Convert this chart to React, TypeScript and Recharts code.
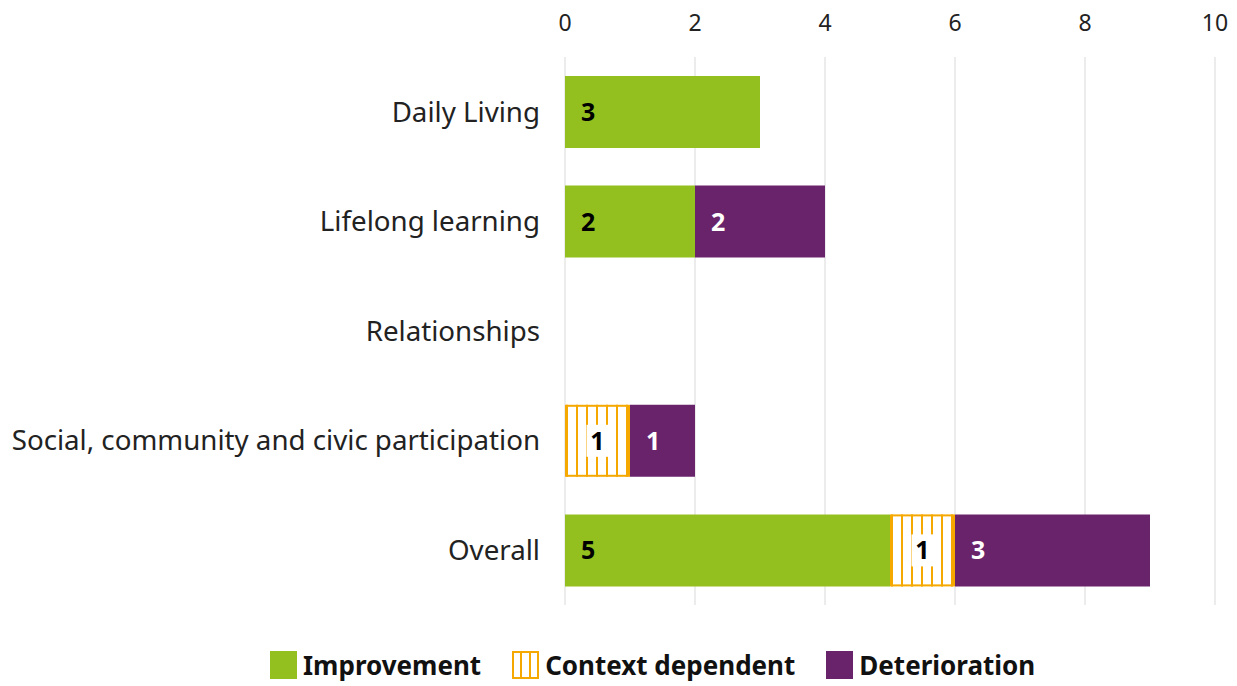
import React from 'react';
import { BarChart, Bar, XAxis, YAxis, CartesianGrid, LabelList } from 'recharts';

const categories = ['Daily Living', 'Lifelong learning', 'Relationships', 'Social, community and civic participation', 'Overall'];
const improvement = [3, 2, 0, 0, 5];
const contextDependent = [0, 0, 0, 1, 1];
const deterioration = [0, 2, 0, 1, 3];
const xTicks = [0, 2, 4, 6, 8, 10];

const GREEN = '#93C01F';
const ORANGE = '#F5A800';
const PURPLE = '#69236B';
const FONT = '"Noto Sans", sans-serif';

const data = categories.map((name, i) => ({
  name,
  improvement: improvement[i],
  context: contextDependent[i],
  deterioration: deterioration[i],
}));

const StripedBar = (props: any) => {
  const { x, y, width, height } = props;
  if (!width || width <= 0) return null;
  const lines = [];
  for (let lx = x + 2; lx < x + width - 1; lx += 10) {
    lines.push(<line key={lx} x1={lx} x2={lx} y1={y} y2={y + height} stroke={ORANGE} strokeWidth={2} />);
  }
  return (
    <g>
      <rect x={x} y={y} width={width} height={height} fill="#fff" />
      {lines}
      <rect x={x + 1} y={y + 1} width={width - 2} height={height - 2} fill="none" stroke={ORANGE} strokeWidth={2} />
    </g>
  );
};

const leftLabel = (color: string) => (props: any) => {
  const { x, y, height, value } = props;
  if (!value) return null;
  return (
    <text x={x + 16} y={y + height / 2} dy={9} fill={color} fontFamily={FONT} fontWeight={700} fontSize={25}>
      {value}
    </text>
  );
};

const centerLabel = (props: any) => {
  const { x, y, width, height, value } = props;
  if (!value) return null;
  const cx = x + width / 2;
  const cy = y + height / 2;
  return (
    <g>
      <rect x={cx - 11} y={cy - 16} width={22} height={32} fill="#fff" />
      <text x={cx} y={cy} dy={9} textAnchor="middle" fill="#000" fontFamily={FONT} fontWeight={700} fontSize={25}>
        {value}
      </text>
    </g>
  );
};

const legendItems = [
  { label: 'Improvement', kind: 'green' },
  { label: 'Context dependent', kind: 'stripe' },
  { label: 'Deterioration', kind: 'purple' },
];

const Swatch = ({ kind }: { kind: string }) => {
  if (kind === 'stripe') {
    return (
      <svg width={27} height={28} style={{ marginRight: 6, flexShrink: 0 }}>
        <rect x={1} y={1} width={25} height={26} fill="#fff" stroke={ORANGE} strokeWidth={2} />
        <line x1={9} x2={9} y1={0} y2={28} stroke={ORANGE} strokeWidth={2} />
        <line x1={18} x2={18} y1={0} y2={28} stroke={ORANGE} strokeWidth={2} />
      </svg>
    );
  }
  return (
    <svg width={27} height={28} style={{ marginRight: 6, flexShrink: 0 }}>
      <rect x={0} y={0} width={27} height={28} fill={kind === 'green' ? GREEN : PURPLE} />
    </svg>
  );
};

export default function App() {
  return (
    <div style={{ position: 'absolute', left: 0, top: 0, width: 1237, height: 686, background: '#fff', fontFamily: FONT }}>
      <BarChart
        width={1237}
        height={620}
        data={data}
        layout="vertical"
        margin={{ top: 0, right: 22, bottom: 15, left: 0 }}
        barSize={72}
      >
        <CartesianGrid horizontal={false} stroke="#d9d9d9" />
        <XAxis
          type="number"
          orientation="top"
          domain={[0, 10]}
          ticks={xTicks}
          height={57}
          axisLine={false}
          tickLine={false}
          tickMargin={20}
          tick={{ fontSize: 23, fill: '#222', fontFamily: FONT }}
        />
        <YAxis
          type="category"
          dataKey="name"
          width={565}
          axisLine={false}
          tickLine={false}
          tickMargin={19}
          tick={{ fontSize: 27.7, fill: '#222', fontFamily: FONT }}
        />
        <Bar dataKey="improvement" stackId="a" fill={GREEN} isAnimationActive={false}>
          <LabelList dataKey="improvement" content={leftLabel('#000')} />
        </Bar>
        <Bar dataKey="context" stackId="a" fill="#fff" shape={StripedBar} isAnimationActive={false}>
          <LabelList dataKey="context" content={centerLabel} />
        </Bar>
        <Bar dataKey="deterioration" stackId="a" fill={PURPLE} isAnimationActive={false}>
          <LabelList dataKey="deterioration" content={leftLabel('#fff')} />
        </Bar>
      </BarChart>
      <div style={{ position: 'absolute', left: 270, top: 651, display: 'flex', alignItems: 'center', whiteSpace: 'nowrap' }}>
        {legendItems.map((it, i) => (
          <div key={it.label} style={{ display: 'flex', alignItems: 'center', marginLeft: i === 0 ? 0 : 31 }}>
            <Swatch kind={it.kind} />
            <span style={{ fontSize: 26, fontWeight: 700, color: '#111', lineHeight: '28px' }}>{it.label}</span>
          </div>
        ))}
      </div>
    </div>
  );
}
